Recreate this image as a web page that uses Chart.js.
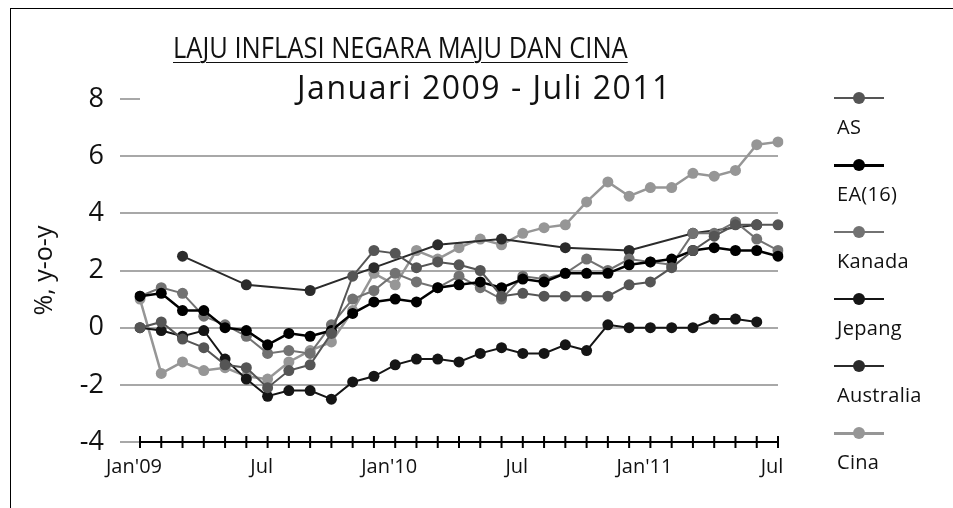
<!DOCTYPE html>
<html>
<head>
<meta charset="utf-8">
<script src="https://cdn.jsdelivr.net/npm/chart.js@4"></script>
<style>
  body { margin: 0; background: #fff; font-family: 'Open Sans', sans-serif; }
  #wrap { position: relative; width: 953px; height: 508px; overflow: hidden; }
  #frame { position: absolute; left: 10px; top: 8px; width: 960px; height: 520px; border-left: 1px solid #000; border-top: 1px solid #000; }
  canvas { position: absolute; left: 0; top: 0; }
  #judul { position: absolute; left: 173px; top: 26px; font-size: 30px; color: #111; text-decoration: underline; text-decoration-thickness: 1px; text-underline-offset: 4px; white-space: nowrap; transform: scaleX(0.85); transform-origin: 0 0; }
  #subjudul { position: absolute; left: 297px; top: 65px; font-size: 32px; letter-spacing: 1.5px; color: #111; white-space: nowrap; }
  #legenda { position: absolute; left: 834px; top: 84px; }
  .item { height: 67px; position: relative; }
  .garis { position: absolute; left: 0; top: 13px; width: 50px; }
  .titik { position: absolute; left: 19px; width: 12px; height: 12px; border-radius: 50%; }
  .teks { position: absolute; left: 3px; top: 29px; font-size: 20px; letter-spacing: 0.3px; color: #111; white-space: nowrap; }
</style>
</head>
<body>
<div id="wrap">
  <div id="frame"></div>
  <canvas id="chart" width="953" height="508"></canvas>
  <div id="judul">LAJU INFLASI NEGARA MAJU DAN CINA</div>
  <div id="subjudul">Januari 2009 - Juli 2011</div>
  <div id="legenda"></div>
</div>
<script>
// Bulan (Jan 2009 - Jul 2011)
const bulan = ["Jan'09", "Feb", "Mar", "Apr", "Mei", "Jun", "Jul", "Agu", "Sep", "Okt", "Nov", "Des",
    "Jan'10", "Feb", "Mar", "Apr", "Mei", "Jun", "Jul", "Agu", "Sep", "Okt", "Nov", "Des",
    "Jan'11", "Feb", "Mar", "Apr", "Mei", "Jun", "Jul"];

// Inflasi, %, y-o-y
const dataAS = [0.0, 0.2, -0.4, -0.7, -1.3, -1.4, -2.1, -1.5, -1.3, -0.2, 1.8, 2.7,
    2.6, 2.1, 2.3, 2.2, 2.0, 1.1, 1.2, 1.1, 1.1, 1.1, 1.1, 1.5,
    1.6, 2.1, 2.7, 3.2, 3.6, 3.6, 3.6];
const dataEA = [1.1, 1.2, 0.6, 0.6, 0.0, -0.1, -0.6, -0.2, -0.3, -0.1, 0.5, 0.9,
    1.0, 0.9, 1.4, 1.5, 1.6, 1.4, 1.7, 1.6, 1.9, 1.9, 1.9, 2.2,
    2.3, 2.4, 2.7, 2.8, 2.7, 2.7, 2.5];
const dataKanada = [1.1, 1.4, 1.2, 0.4, 0.1, -0.3, -0.9, -0.8, -0.9, 0.1, 1.0, 1.3,
    1.9, 1.6, 1.4, 1.8, 1.4, 1.0, 1.8, 1.7, 1.9, 2.4, 2.0, 2.4,
    2.3, 2.2, 3.3, 3.3, 3.7, 3.1, 2.7];
const dataJepang = [0.0, -0.1, -0.3, -0.1, -1.1, -1.8, -2.4, -2.2, -2.2, -2.5, -1.9, -1.7,
    -1.3, -1.1, -1.1, -1.2, -0.9, -0.7, -0.9, -0.9, -0.6, -0.8, 0.1, 0.0,
    0.0, 0.0, 0.0, 0.3, 0.3, 0.2, null];
// Australia: data kuartalan
const dataAustralia = [null, null, 2.5, null, null, 1.5, null, null, 1.3, null, null, 2.1,
    null, null, 2.9, null, null, 3.1, null, null, 2.8, null, null, 2.7,
    null, null, 3.3, null, null, 3.6, null];
const dataCina = [1.0, -1.6, -1.2, -1.5, -1.4, -1.7, -1.8, -1.2, -0.8, -0.5, 0.6, 1.9,
    1.5, 2.7, 2.4, 2.8, 3.1, 2.9, 3.3, 3.5, 3.6, 4.4, 5.1, 4.6,
    4.9, 4.9, 5.4, 5.3, 5.5, 6.4, 6.5];

const yMin = -4;
const yMax = 8;

Chart.defaults.font.family = "'Open Sans', sans-serif";
Chart.defaults.color = '#111';

function seri(label, data, warna, tebal) {
    return {
        label: label,
        data: data,
        borderColor: warna,
        backgroundColor: warna,
        pointBackgroundColor: warna,
        pointBorderColor: warna,
        pointBorderWidth: 0,
        pointRadius: 5.5,
        borderWidth: tebal,
        spanGaps: true,
        tension: 0,
    };
}

// Garis tick sumbu X yang memotong sumbu (seperti Excel)
const tickSilang = {
    id: 'tickSilang',
    afterDraw(chart) {
        const x = chart.scales.x;
        const ctx = chart.ctx;
        const y = chart.chartArea.bottom;
        ctx.save();
        ctx.strokeStyle = '#000';
        ctx.lineWidth = 2;
        for (let i = 0; i < x.ticks.length; i++) {
            const px = x.getPixelForTick(i);
            ctx.beginPath();
            ctx.moveTo(px, y - 6);
            ctx.lineTo(px, y + 6);
            ctx.stroke();
        }
        ctx.restore();
    }
};

const chart = new Chart(document.getElementById('chart'), {
    type: 'line',
    data: {
        labels: bulan,
        datasets: [
            seri('AS', dataAS, '#555555', 2),
            seri('EA(16)', dataEA, '#000000', 2.5),
            seri('Kanada', dataKanada, '#727272', 2),
            seri('Jepang', dataJepang, '#151515', 2),
            seri('Australia', dataAustralia, '#2b2b2b', 2),
            seri('Cina', dataCina, '#969696', 2.5),
        ],
    },
    plugins: [tickSilang],
    options: {
        responsive: false,
        animation: false,
        layout: { padding: { left: 30, right: 175, top: 99, bottom: 26 } },
        plugins: {
            legend: { display: false },
            title: { display: false },
            tooltip: { enabled: false },
        },
        scales: {
            x: {
                offset: false,
                grid: { display: false },
                border: { display: true, color: '#000', width: 2 },
                ticks: {
                    autoSkip: false,
                    maxRotation: 0,
                    padding: 5,
                    labelOffset: -6,
                    font: { size: 20 },
                    callback: (v, i) => (i % 6 === 0 ? bulan[i] : ''),
                },
                afterFit: s => { s.height = 40; },
            },
            y: {
                min: yMin,
                max: yMax,
                border: { display: false },
                ticks: {
                    stepSize: 1,
                    padding: 16,
                    font: { size: 27 },
                    callback: v => (v % 2 === 0 ? String(v) : ''),
                },
                grid: {
                    lineWidth: 2,
                    tickLength: 20,
                    color: c => (c.tick.value % 2 === 0 && c.tick.value !== yMax && c.tick.value !== yMin ? '#a8a8a8' : 'rgba(0,0,0,0)'),
                    tickColor: c => (c.tick.value % 2 === 0 ? '#a8a8a8' : '#000'),
                },
                title: {
                    display: true,
                    text: '%, y-o-y',
                    font: { size: 25 },
                    padding: { top: 0, bottom: 0 },
                },
                afterFit: s => { s.width = 110; },
            },
        },
    },
});

// Legenda: simbol di atas, teks di bawah
const legenda = document.getElementById('legenda');
chart.data.datasets.forEach(ds => {
    const item = document.createElement('div');
    item.className = 'item';
    const garis = document.createElement('div');
    garis.className = 'garis';
    garis.style.height = ds.borderWidth + 'px';
    garis.style.background = ds.borderColor;
    const titik = document.createElement('div');
    titik.className = 'titik';
    titik.style.top = (13 + ds.borderWidth / 2 - 6) + 'px';
    titik.style.background = ds.borderColor;
    const teks = document.createElement('div');
    teks.className = 'teks';
    teks.textContent = ds.label;
    item.appendChild(garis);
    item.appendChild(titik);
    item.appendChild(teks);
    legenda.appendChild(item);
});
</script>
</body>
</html>
